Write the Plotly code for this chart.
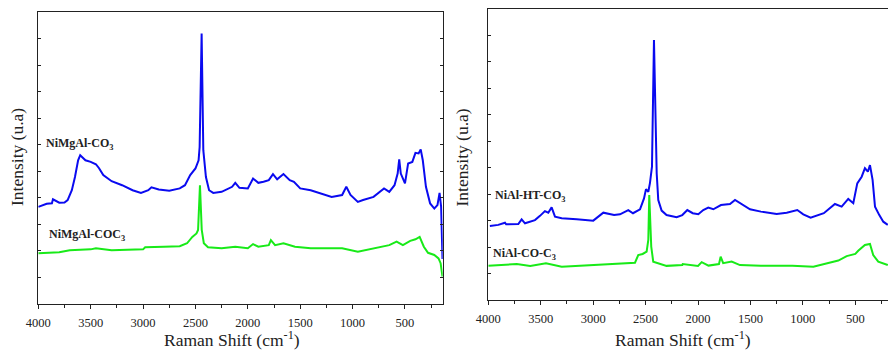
import plotly.graph_objects as go

# ---- NiMgAl samples (left panel) ----
nimgal_co3_shift = [4000, 3920, 3870, 3860, 3800, 3750, 3720, 3680, 3650, 3620, 3600, 3550, 3500,
                    3450, 3420, 3380, 3300, 3200, 3100, 3020, 2950, 2920, 2850, 2750, 2650, 2600,
                    2550, 2500, 2470, 2460, 2441, 2425, 2400, 2370, 2330, 2250, 2150, 2120, 2080,
                    2000, 1950, 1900, 1850, 1800, 1760, 1720, 1660, 1600, 1560, 1500, 1400, 1300,
                    1200, 1100, 1060, 1020, 950, 900, 800, 700, 650, 600, 570, 555, 540, 500, 470,
                    430, 400, 370, 350, 330, 300, 260, 220, 190, 170, 155, 142]
nimgal_co3_int = [3.66, 3.78, 3.80, 3.95, 3.82, 3.83, 3.92, 4.29, 4.79, 5.42, 5.61, 5.42, 5.36,
                  5.27, 5.12, 4.86, 4.63, 4.48, 4.29, 4.19, 4.29, 4.40, 4.32, 4.27, 4.36, 4.48,
                  4.86, 5.11, 5.42, 5.92, 10.20, 5.80, 4.79, 4.29, 4.19, 4.23, 4.42, 4.57, 4.38,
                  4.36, 4.73, 4.57, 4.61, 4.67, 4.90, 4.70, 4.90, 4.67, 4.61, 4.36, 4.29, 4.17,
                  4.04, 4.11, 4.42, 4.11, 3.85, 3.92, 4.04, 4.36, 4.23, 4.48, 4.92, 5.45, 4.92,
                  4.55, 5.30, 5.36, 5.70, 5.68, 5.83, 5.42, 4.42, 3.79, 3.60, 3.73, 4.19, 3.66, 1.70]

nimgal_coc3_shift = [4000, 3800, 3700, 3500, 3450, 3300, 3000, 2980, 2800, 2650, 2580, 2530,
                     2490, 2475, 2457, 2440, 2420, 2380, 2250, 2120, 2000, 1950, 1900, 1800,
                     1780, 1740, 1660, 1550, 1400, 1100, 950, 800, 650, 580, 520, 450, 400, 360,
                     320, 280, 220, 180, 160, 142]
nimgal_coc3_int = [1.91, 1.95, 2.03, 2.06, 2.10, 2.03, 2.06, 2.14, 2.16, 2.18, 2.29, 2.53,
                   2.66, 2.79, 4.48, 2.79, 2.29, 2.14, 2.10, 2.16, 2.10, 2.26, 2.16, 2.22,
                   2.41, 2.22, 2.29, 2.16, 2.10, 2.10, 1.97, 2.10, 2.22, 2.35, 2.22, 2.38, 2.44,
                   2.53, 2.16, 1.93, 1.85, 1.72, 1.54, 1.03]

# ---- NiAl samples (right panel) ----
nial_ht_shift = [3985, 3905, 3841, 3830, 3714, 3682, 3650, 3555, 3507, 3460, 3428, 3396, 3364,
                 3300, 3157, 2999, 2903, 2871, 2800, 2744, 2665, 2620, 2553, 2515, 2496, 2474,
                 2458, 2439, 2420, 2394, 2379, 2347, 2300, 2204, 2150, 2102, 2050, 1997, 1950,
                 1902, 1854, 1781, 1695, 1647, 1584, 1504, 1400, 1250, 1154, 1053, 996, 926,
                 800, 694, 630, 567, 519, 481, 439, 408, 380, 360, 335, 312, 271, 233, 190]
nial_ht_int = [2.80, 2.84, 2.92, 2.86, 2.87, 3.05, 2.90, 3.02, 3.18, 3.36, 3.30, 3.50, 3.15,
               3.09, 3.05, 3.00, 3.30, 3.28, 3.21, 3.24, 3.40, 3.28, 3.43, 3.84, 4.19, 4.09,
               4.43, 5.04, 9.83, 4.79, 3.78, 3.38, 3.21, 3.13, 3.21, 3.40, 3.28, 3.24, 3.40,
               3.49, 3.43, 3.59, 3.63, 3.78, 3.63, 3.43, 3.34, 3.25, 3.30, 3.40, 3.24, 3.11,
               3.28, 3.63, 3.53, 3.82, 3.66, 4.41, 4.66, 4.98, 4.85, 5.10, 4.54, 3.53, 3.21,
               2.96, 2.84]

nial_coc3_shift = [4000, 3729, 3600, 3450, 3300, 3000, 2713, 2601, 2570, 2528, 2490, 2474,
                   2465, 2446, 2427, 2300, 2150, 2146, 2000, 1965, 1900, 1800, 1784, 1760,
                   1679, 1600, 1400, 1100, 900, 758, 662, 582, 500, 472, 408, 360, 329, 281,
                   220, 190]
nial_coc3_int = [1.29, 1.36, 1.29, 1.39, 1.26, 1.32, 1.39, 1.41, 1.70, 1.74, 1.83, 2.27,
                 3.97, 2.02, 1.45, 1.29, 1.32, 1.36, 1.29, 1.43, 1.30, 1.36, 1.64, 1.39,
                 1.45, 1.32, 1.29, 1.29, 1.26, 1.39, 1.49, 1.66, 1.74, 1.86, 2.08, 2.12, 1.70,
                 1.45, 1.36, 1.32]

x_ticks = [4000, 3500, 3000, 2500, 2000, 1500, 1000, 500]

BLUE = "#0a0af0"
GREEN = "#18ea18"
SERIF = "Liberation Serif, Times New Roman, serif"

W, H = 888, 354


def px_x(p):
    return p / W


def px_y(p):
    return 1 - p / H


fig = go.Figure()
fig.add_trace(go.Scatter(x=nimgal_co3_shift, y=nimgal_co3_int, mode="lines",
                         line=dict(color=BLUE, width=2), xaxis="x", yaxis="y"))
fig.add_trace(go.Scatter(x=nimgal_coc3_shift, y=nimgal_coc3_int, mode="lines",
                         line=dict(color=GREEN, width=2), xaxis="x", yaxis="y"))
fig.add_trace(go.Scatter(x=nial_ht_shift, y=nial_ht_int, mode="lines",
                         line=dict(color=BLUE, width=2), xaxis="x2", yaxis="y2"))
fig.add_trace(go.Scatter(x=nial_coc3_shift, y=nial_coc3_int, mode="lines",
                         line=dict(color=GREEN, width=2), xaxis="x2", yaxis="y2"))

xcommon = dict(
    tickvals=x_ticks, ticktext=[str(v) for v in x_ticks],
    ticks="outside", ticklen=4, tickwidth=1, tickcolor="#222",
    minor=dict(dtick=250, tick0=0, ticks="outside", ticklen=3, tickcolor="#222"),
    showline=True, linecolor="#222", linewidth=1, mirror=True,
    showgrid=False, zeroline=False, automargin=False,
    tickfont=dict(family=SERIF, size=12.5, color="#222"),
    ticklabelstandoff=3,
)
ycommon = dict(
    range=[0, 11], dtick=1, tick0=0,
    ticks="inside", ticklen=3, tickwidth=1, tickcolor="#222",
    showticklabels=False, showline=True, linecolor="#222", linewidth=1,
    showgrid=False, zeroline=False, automargin=False,
)

fig.update_layout(
    width=W, height=H,
    margin=dict(l=0, r=0, t=0, b=0, autoexpand=False),
    paper_bgcolor="white", plot_bgcolor="white",
    showlegend=False,
    font=dict(family=SERIF),
    xaxis=dict(domain=[px_x(38.3), px_x(442.7)], range=[4000, 140], anchor="y", **xcommon),
    yaxis=dict(domain=[px_y(304), px_y(12.3)], anchor="x", mirror="ticks", **ycommon),
    xaxis2=dict(domain=[px_x(488.3), 1.0], range=[4000, 188], anchor="y2", **xcommon),
    yaxis2=dict(domain=[px_y(300), px_y(9)], anchor="x2", mirror=False, **ycommon),
)

label_font = dict(family=SERIF, size=12, color="#222")
title_font = dict(family=SERIF, size=17.5, color="#222")

annotations = [
    dict(text="<b>NiMgAl-CO<sub>3</sub></b>", x=px_x(44), y=px_y(144)),
    dict(text="<b>NiMgAl-COC<sub>3</sub></b>", x=px_x(47), y=px_y(235)),
    dict(text="<b>NiAl-HT-CO<sub>3</sub></b>", x=px_x(493), y=px_y(196)),
    dict(text="<b>NiAl-CO-C<sub>3</sub></b>", x=px_x(491), y=px_y(254)),
]
for a in annotations:
    fig.add_annotation(xref="paper", yref="paper", xanchor="left", yanchor="middle",
                       showarrow=False, font=label_font, **a)

# axis titles
for cx in (232, 682.5):
    fig.add_annotation(text="Raman Shift (cm<sup>-1</sup>)", xref="paper", yref="paper",
                       x=px_x(cx), y=px_y(339), xanchor="center", yanchor="middle",
                       showarrow=False, font=title_font)
for cx, cy in ((17, 157), (461.5, 158)):
    fig.add_annotation(text="Intensity (u.a)", xref="paper", yref="paper",
                       x=px_x(cx), y=px_y(cy), xanchor="center", yanchor="middle",
                       textangle=-90, showarrow=False,
                       font=dict(family=SERIF, size=17.5, color="#222"))

fig.write_html("out.html")
